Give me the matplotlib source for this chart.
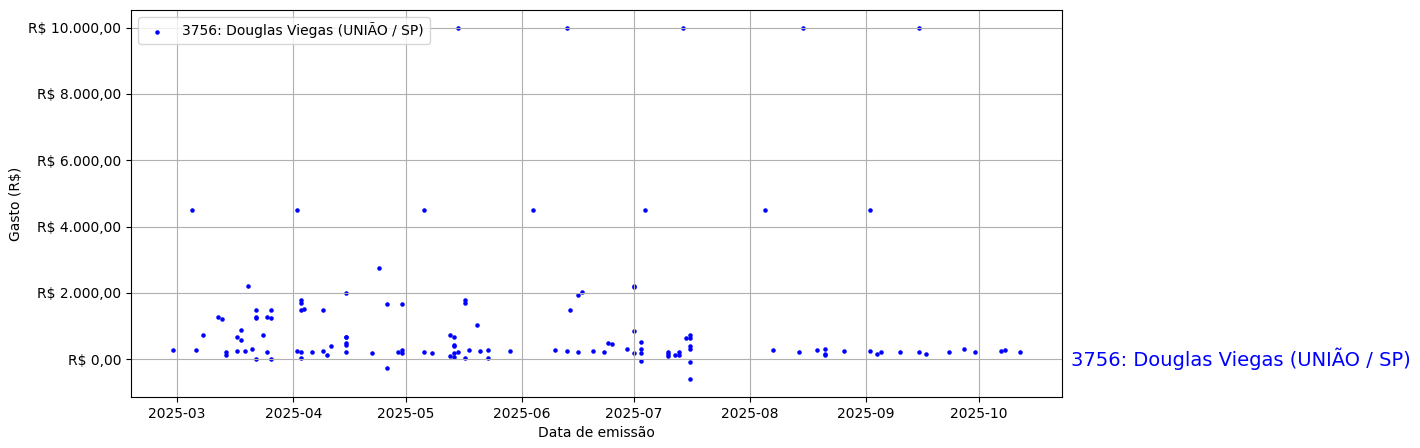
import matplotlib
matplotlib.use("Agg")
import matplotlib.pyplot as plt
import matplotlib.dates as mdates
import matplotlib.ticker as mticker
import pandas as pd

# data
label = "3756: Douglas Viegas (UNIÃO / SP)"

dates = [
    "2025-02-28", "2025-03-05", "2025-03-06", "2025-03-08", "2025-03-12",
    "2025-03-13", "2025-03-14", "2025-03-14", "2025-03-17", "2025-03-17",
    "2025-03-18", "2025-03-18", "2025-03-19", "2025-03-20", "2025-03-21",
    "2025-03-22", "2025-03-22", "2025-03-22", "2025-03-22", "2025-03-24",
    "2025-03-25", "2025-03-25", "2025-03-26", "2025-03-26", "2025-03-26",
    "2025-04-02", "2025-04-02", "2025-04-03", "2025-04-03", "2025-04-03",
    "2025-04-03", "2025-04-03", "2025-04-04", "2025-04-06", "2025-04-09",
    "2025-04-09", "2025-04-10", "2025-04-11", "2025-04-15", "2025-04-15",
    "2025-04-15", "2025-04-15", "2025-04-15", "2025-04-15", "2025-04-22",
    "2025-04-24", "2025-04-26", "2025-04-26", "2025-04-29", "2025-04-30",
    "2025-04-30", "2025-04-30", "2025-05-06", "2025-05-06", "2025-05-08",
    "2025-05-13", "2025-05-13", "2025-05-14", "2025-05-14", "2025-05-14",
    "2025-05-14", "2025-05-14", "2025-05-15", "2025-05-15", "2025-05-17",
    "2025-05-17", "2025-05-17", "2025-05-18", "2025-05-20", "2025-05-21",
    "2025-05-23", "2025-05-23", "2025-05-29", "2025-06-04", "2025-06-10",
    "2025-06-13", "2025-06-13", "2025-06-14", "2025-06-16", "2025-06-16",
    "2025-06-17", "2025-06-20", "2025-06-23", "2025-06-24", "2025-06-25",
    "2025-06-29", "2025-07-01", "2025-07-01", "2025-07-01", "2025-07-01",
    "2025-07-03", "2025-07-03", "2025-07-03", "2025-07-03", "2025-07-04",
    "2025-07-10", "2025-07-10", "2025-07-10", "2025-07-12", "2025-07-13",
    "2025-07-13", "2025-07-14", "2025-07-15", "2025-07-16", "2025-07-16",
    "2025-07-16", "2025-07-16", "2025-07-16", "2025-07-16", "2025-08-05",
    "2025-08-07", "2025-08-14", "2025-08-15", "2025-08-19", "2025-08-21",
    "2025-08-21", "2025-08-21", "2025-08-26", "2025-09-02", "2025-09-02",
    "2025-09-04", "2025-09-05", "2025-09-10", "2025-09-15", "2025-09-15",
    "2025-09-17", "2025-09-23", "2025-09-27", "2025-09-30", "2025-10-07",
    "2025-10-08", "2025-10-12",
]

values = [
    290, 4500, 290, 720, 1270,
    1200, 230, 120, 260, 660,
    870, 570, 260, 2210, 320,
    0, 1480, 1260, 1240, 720,
    1270, 230, 1480, 1230, 0,
    4500, 260, 1780, 1710, 1480,
    230, 50, 1520, 230, 1480,
    260, 140, 390, 2000, 680,
    660, 480, 430, 230, 200,
    2750, 1660, -280, 230, 1660,
    290, 200, 4500, 230, 200,
    720, 110, 660, 440, 410,
    200, 80, 10000, 230, 1780,
    1690, 50, 290, 1020, 260,
    50, 290, 260, 4500, 290,
    10000, 260, 1480, 1930, 230,
    2020, 260, 230, 480, 450,
    320, 2200, 2180, 840, 200,
    510, 320, -40, 200, 4500,
    230, 170, 110, 140, 230,
    140, 10000, 630, 720, 630,
    390, 320, -90, -610, 4500,
    290, 230, 10000, 290, 320,
    140, 170, 260, 4500, 260,
    170, 230, 230, 10000, 230,
    170, 230, 320, 230, 260,
    290, 230,
]


def brl(v, pos=None):
    s = f"{v:,.2f}".replace(",", "X").replace(".", ",").replace("X", ".")
    return f"R$ {s}"


x = pd.to_datetime(dates)

fig = plt.figure(figsize=(14.2, 4.48), dpi=100)
ax = fig.add_axes([0.0923, 0.1138, 0.6556, 0.8638])

ax.scatter(x, values, s=5, color="blue", label=label)

ax.xaxis.set_major_locator(mdates.MonthLocator())
ax.xaxis.set_major_formatter(mdates.DateFormatter("%Y-%m"))
ax.yaxis.set_major_formatter(mticker.FuncFormatter(brl))

ax.set_xlabel("Data de emissão")
ax.set_ylabel("Gasto (R$)")
ax.grid(True)
ax.legend(loc="upper left")

trans = matplotlib.transforms.blended_transform_factory(ax.transAxes, ax.transData)
ax.text(1.01, 0, label, transform=trans, color="blue", fontsize=14, va="center", ha="left")

fig.savefig("out.png", dpi=100)
